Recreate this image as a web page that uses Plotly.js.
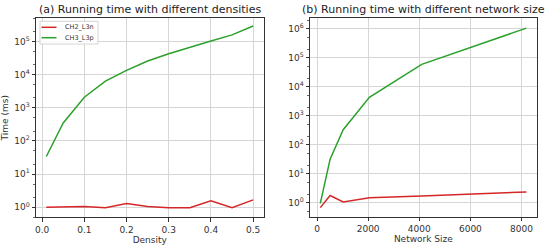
<!DOCTYPE html>
<html>
<head>
<meta charset="utf-8">
<script src="https://cdn.plot.ly/plotly-3.0.1.min.js"></script>
<style>html,body{margin:0;padding:0;background:#fff;}#chart{width:546px;height:246px;}</style>
</head>
<body>
<div id="chart"></div>
<script>
// Panel (a): running time vs density
const densities = [0.01, 0.05, 0.1, 0.15, 0.2, 0.25, 0.3, 0.35, 0.4, 0.45, 0.5];
const densityCH2 = [1.0, 1.02, 1.05, 0.97, 1.29, 1.05, 0.97, 0.97, 1.55, 0.96, 1.67];
const densityCH3 = [34, 350, 2100, 6400, 13500, 26000, 43000, 69000, 105000, 160000, 298000];
// Panel (b): running time vs network size
const sizes = [128, 512, 1024, 2048, 4096, 8192];
const sizeCH2 = [0.68, 1.78, 1.07, 1.48, 1.7, 2.37];
const sizeCH3 = [0.95, 32, 330, 4300, 59000, 1050000];
// Labels
const seriesNames = ["CH2_L3n", "CH3_L3p"];
const seriesColors = ['#d62728', '#2ca02c'];
const titles = ["(a) Running time with different densities", "(b) Running time with different network size"];
const densityTicks = [0, 0.1, 0.2, 0.3, 0.4, 0.5];
const densityTickText = ["0.0", "0.1", "0.2", "0.3", "0.4", "0.5"];
const sizeTicks = [0, 2000, 4000, 6000, 8000];
const logTicksA = [1, 10, 100, 1000, 10000, 100000];
const logTicksB = [1, 10, 100, 1000, 10000, 100000, 1000000];
const logText = ["10<sup>0</sup>", "10<sup>1</sup>", "10<sup>2</sup>", "10<sup>3</sup>", "10<sup>4</sup>", "10<sup>5</sup>", "10<sup>6</sup>"];

const FONT = 'DejaVu Sans, sans-serif';

const traces = [
  {x: densities, y: densityCH2, name: seriesNames[0], mode: 'lines', line: {color: seriesColors[0], width: 1.5}, xaxis: 'x', yaxis: 'y'},
  {x: densities, y: densityCH3, name: seriesNames[1], mode: 'lines', line: {color: seriesColors[1], width: 1.5}, xaxis: 'x', yaxis: 'y'},
  {x: sizes, y: sizeCH2, name: seriesNames[0], mode: 'lines', line: {color: seriesColors[0], width: 1.5}, xaxis: 'x2', yaxis: 'y2'},
  {x: sizes, y: sizeCH3, name: seriesNames[1], mode: 'lines', line: {color: seriesColors[1], width: 1.5}, xaxis: 'x2', yaxis: 'y2'}
];

const axisCommon = {
  showline: true, mirror: true, linecolor: '#333', linewidth: 1,
  ticks: 'outside', ticklen: 3.5, tickcolor: '#333', tickwidth: 1,
  showgrid: true, gridcolor: '#d6d6d6', gridwidth: 1,
  zeroline: false,
  tickfont: {family: FONT, size: 9, color: '#333'}
};
const titleFont = {family: FONT, size: 9, color: '#333'};

const H = 246, W = 546;
const px = v => v / W;
const py = v => 1 - v / H;

// Compact legend (matplotlib style) inside panel (a)
const legendShapes = [
  {type: 'rect', xref: 'paper', yref: 'paper', x0: px(40), x1: px(98), y0: py(44), y1: py(21.3),
   line: {color: '#d4d4d4', width: 1}, fillcolor: 'rgba(255,255,255,0.85)', layer: 'above'}
];
const legendAnn = [];
seriesNames.forEach((name, i) => {
  const yy = 27.3 + i * 10.4;
  legendShapes.push({type: 'line', xref: 'paper', yref: 'paper', x0: px(41.5), x1: px(56.5), y0: py(yy), y1: py(yy),
    line: {color: seriesColors[i], width: 1.5}, layer: 'above'});
  legendAnn.push({text: name, xref: 'paper', yref: 'paper', x: px(63), y: py(yy), xanchor: 'left', yanchor: 'middle',
    showarrow: false, font: {family: FONT, size: 6.5, color: '#333'}});
});

const layout = {
  width: W, height: H,
  margin: {l: 0, r: 0, t: 0, b: 0},
  paper_bgcolor: '#fff', plot_bgcolor: '#fff',
  font: {family: FONT, color: '#333'},
  showlegend: false,
  xaxis: Object.assign({}, axisCommon, {
    domain: [px(36), px(263.5)], anchor: 'y',
    range: [-0.0145, 0.5245], tickvals: densityTicks, ticktext: densityTickText,
    title: {text: 'Density', standoff: 2, font: titleFont}
  }),
  yaxis: Object.assign({}, axisCommon, {
    domain: [py(217.3), py(18.3)], anchor: 'x',
    type: 'log', range: [-0.305, 5.705],
    tickvals: logTicksA, ticktext: logText.slice(0, 6),
    minor: {ticks: 'outside', ticklen: 2, tickcolor: '#666', showgrid: false},
    title: {text: 'Time (ms)', standoff: 4, font: titleFont}
  }),
  xaxis2: Object.assign({}, axisCommon, {
    domain: [px(310), px(536.7)], anchor: 'y2',
    range: [-275, 8595], tickvals: sizeTicks,
    title: {text: 'Network Size', standoff: 2, font: titleFont}
  }),
  yaxis2: Object.assign({}, axisCommon, {
    domain: [py(216.7), py(18.3)], anchor: 'x2',
    type: 'log', range: [-0.48, 6.36],
    tickvals: logTicksB, ticktext: logText,
    minor: {ticks: 'outside', ticklen: 2, tickcolor: '#666', showgrid: false}
  }),
  shapes: legendShapes,
  annotations: [
    {text: titles[0], xref: 'paper', yref: 'paper', x: px((36 + 263.5) / 2), y: py(9.3), xanchor: 'center', yanchor: 'middle', showarrow: false, font: {family: FONT, size: 11, color: '#222'}},
    {text: titles[1], xref: 'paper', yref: 'paper', x: px((310 + 536.7) / 2), y: py(9.3), xanchor: 'center', yanchor: 'middle', showarrow: false, font: {family: FONT, size: 11, color: '#222'}}
  ].concat(legendAnn)
};

Plotly.newPlot('chart', traces, layout, {staticPlot: true, displayModeBar: false});
</script>
</body>
</html>
